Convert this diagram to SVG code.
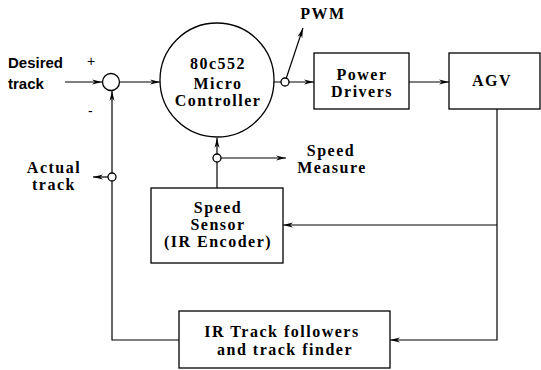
<svg xmlns="http://www.w3.org/2000/svg" width="541" height="370" viewBox="0 0 541 370">
<defs>
<marker id="ah" viewBox="0 0 10 6" refX="10" refY="3" markerWidth="10" markerHeight="6" markerUnits="userSpaceOnUse" orient="auto">
<path d="M0,0.5 L10,3 L0,5.5 L3,3 Z" fill="#000"/>
</marker>
</defs>
<style>
.ln{fill:none;stroke:#000;stroke-width:1.2}
.bx{fill:#fff;stroke:#000;stroke-width:1.3}
.t{font-family:"Liberation Serif",serif;font-weight:bold;font-size:16px;letter-spacing:1.5px;text-anchor:middle;fill:#000}
.s{font-family:"Liberation Sans",sans-serif;font-weight:bold;font-size:15px;fill:#000}
.p{font-family:"Liberation Sans",sans-serif;font-size:14px;fill:#000}
</style>
<rect width="541" height="370" fill="#fff"/>
<g id="connectors">
<path class="ln" d="M65,82 H102" marker-end="url(#ah)"/>
<path class="ln" d="M120,82 H160" marker-end="url(#ah)"/>
<path class="ln" d="M274,82 H314" marker-end="url(#ah)"/>
<path class="ln" d="M286,79 L303,28" marker-end="url(#ah)"/>
<path class="ln" d="M409,82 H449" marker-end="url(#ah)"/>
<path class="ln" d="M497,109 V340 H390" marker-end="url(#ah)"/>
<path class="ln" d="M497,225 H283" marker-end="url(#ah)"/>
<path class="ln" d="M217,188 V138" marker-end="url(#ah)"/>
<path class="ln" d="M221,158 H286" marker-end="url(#ah)"/>
<path class="ln" d="M179,340 H112 V91" marker-end="url(#ah)"/>
<path class="ln" d="M108,177 H93" marker-end="url(#ah)"/>
<circle class="bx" cx="285" cy="82" r="4"/>
<circle class="bx" cx="217" cy="158" r="4"/>
<circle class="bx" cx="112" cy="177" r="4"/>
</g>
<g id="sum">
<circle class="bx" cx="111" cy="82" r="8.5"/>
<text class="p" x="87" y="66">+</text>
<text class="p" x="88" y="116">-</text>
</g>
<g id="desired">
<text class="s" x="8" y="68">Desired</text>
<text class="s" x="8" y="89">track</text>
</g>
<g id="micro">
<circle class="bx" cx="217" cy="80" r="57"/>
<text class="t" x="218" y="69">80c552</text>
<text class="t" x="218" y="89">Micro</text>
<text class="t" x="218" y="106">Controller</text>
</g>
<g id="pwm"><text class="t" x="323" y="19">PWM</text></g>
<g id="power">
<rect class="bx" x="314" y="53" width="95" height="56"/>
<text class="t" x="362" y="80">Power</text>
<text class="t" x="362" y="97">Drivers</text>
</g>
<g id="agv">
<rect class="bx" x="449" y="53" width="91" height="56"/>
<text class="t" x="492" y="86">AGV</text>
</g>
<g id="speedmeasure">
<text class="t" x="331" y="156">Speed</text>
<text class="t" x="332" y="173">Measure</text>
</g>
<g id="sensor">
<rect class="bx" x="151" y="188" width="132" height="75"/>
<text class="t" x="218" y="213">Speed</text>
<text class="t" x="218" y="230">Sensor</text>
<text class="t" x="218" y="247">(IR Encoder)</text>
</g>
<g id="actual">
<text class="t" x="54" y="173">Actual</text>
<text class="t" x="54" y="190">track</text>
</g>
<g id="ir">
<rect class="bx" x="179" y="311" width="211" height="57"/>
<text class="t" x="282" y="337">IR Track followers</text>
<text class="t" x="285" y="355">and track finder</text>
</g>
</svg>
